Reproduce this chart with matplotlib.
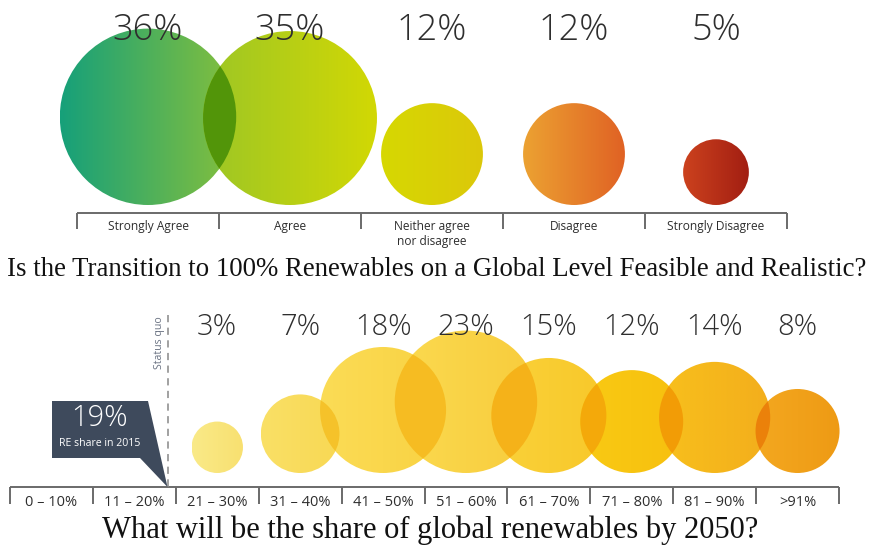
"""Two bubble charts from a renewables survey: feasibility and expected 2050 share."""

import numpy as np
import matplotlib.pyplot as plt
from matplotlib.patches import Circle, Polygon
from matplotlib.colors import to_rgb

# survey 1: is a 100% renewable transition feasible?
feasCategories = ['Strongly Agree', 'Agree', 'Neither agree\nnor disagree', 'Disagree', 'Strongly Disagree']
feasShares = [36, 35, 12, 12, 5]

# survey 2: expected global renewable share by 2050 (first two bins got no answers drawn)
shareCategories = ['0 – 10%', '11 – 20%', '21 – 30%', '31 – 40%', '41 – 50%',
                   '51 – 60%', '61 – 70%', '71 – 80%', '81 – 90%', '>91%']
shareValues = [0, 0, 3, 7, 18, 23, 15, 12, 14, 8]
statusQuo = 19

feasTitle = 'Is the Transition to 100% Renewables on a Global Level Feasible and Realistic?'
shareTitle = 'What will be the share of global renewables by 2050?'

# left/right colours of each bubble's horizontal gradient
feasGradients = [('#16a07a', '#86c03c'), ('#9cc626', '#d2d804'), ('#d6d802', '#dcc80a'),
                 ('#eca232', '#e06224'), ('#cc421e', '#a21e12')]
shareGradients = [None, None, ('#faea88', '#f8e070'), ('#fae066', '#f8d854'),
                  ('#fbdc56', '#f9d242'), ('#fbda50', '#f8cc3c'), ('#fad23a', '#f8c82a'),
                  ('#f9ca14', '#f7c00e'), ('#f8c01c', '#f3ae1c'), ('#f4a820', '#ee9a14')]

sansFont = ['Open Sans', 'DejaVu Sans']
serifFont = ['Liberation Serif', 'DejaVu Serif']
textColor = '#2e2e2e'
axisColor = '#6a6a6a'

fig = plt.figure(figsize=(8.74, 5.52), dpi=100)
ax = fig.add_axes([0, 0, 1, 1])
ax.set_xlim(0, 874)
ax.set_ylim(552, 0)
ax.set_aspect('equal')
ax.axis('off')


def gradientCircle(cx, cy, r, leftColor, rightColor, z):
    left = np.array(to_rgb(leftColor))
    right = np.array(to_rgb(rightColor))
    t = np.linspace(0, 1, 256)[None, :, None]
    img = left + (right - left) * t
    clip = Circle((cx, cy), r, transform=ax.transData, facecolor='none', edgecolor='none')
    ax.add_patch(clip)
    im = ax.imshow(img, extent=(cx - r, cx + r, cy + r, cy - r), aspect='auto',
                   interpolation='bilinear', zorder=z)
    im.set_clip_path(clip)
    return clip


def overlap(clipA, cx, cy, r, colorA, colorB, z, strength=1.0):
    # multiply-style darkening where two bubbles overlap
    a = np.array(to_rgb(colorA))
    b = np.array(to_rgb(colorB))
    mixed = strength * (a * b) + (1 - strength) * (a + b) / 2
    lens = Circle((cx, cy), r, facecolor=mixed, edgecolor='none', zorder=z)
    ax.add_patch(lens)
    lens.set_clip_path(clipA)


def bracketAxis(x0, step, n, y, tickLen, lw):
    xs = x0 + step * np.arange(n + 1)
    ax.plot([xs[0], xs[-1]], [y, y], color=axisColor, lw=lw, solid_capstyle='butt', zorder=2)
    for x in xs:
        ax.plot([x, x], [y, y + tickLen], color=axisColor, lw=lw, solid_capstyle='butt', zorder=2)
    return xs


# ---- top chart ----
topLeft, topStep, topBase, topScale = 77, 142, 205, 14.7
bracketAxis(topLeft, topStep, len(feasCategories), 213, 16, 1.4)
prevClip = None
for i, (cat, val) in enumerate(zip(feasCategories, feasShares)):
    cx = topLeft + topStep * (i + 0.5)
    r = topScale * np.sqrt(val)
    cy = topBase - r
    clip = gradientCircle(cx, cy, r, *feasGradients[i], z=3)
    if prevClip is not None:
        px, py = prevClip.center
        if abs(cx - px) < r + prevClip.radius:
            overlap(prevClip, cx, cy, r, feasGradients[i - 1][1], feasGradients[i][0], z=4)
    prevClip = clip
    ax.text(cx, 30, f'{val}%', ha='center', va='center', fontsize=26, color=textColor,
            family=sansFont, weight='light', zorder=6)
    ax.text(cx, 220, cat, ha='center', va='top', fontsize=8.6, color=textColor,
            family=sansFont, weight='medium', linespacing=1.2)

ax.text(437, 270, feasTitle, ha='center', va='center', fontsize=19.3, color='#111111', family=serifFont)

# ---- bottom chart ----
botLeft, botStep, botBase, botScale = 10, 82.9, 473, 14.85
bracketAxis(botLeft, botStep, len(shareCategories), 487, 17, 1.4)
prevClip = None
prevIdx = None
for i, (cat, val) in enumerate(zip(shareCategories, shareValues)):
    cx = botLeft + botStep * (i + 0.5)
    ax.text(cx, 503, cat, ha='center', va='center', fontsize=10.5, color=textColor,
            family=sansFont, weight='medium')
    if val <= 0:
        continue
    r = botScale * np.sqrt(val)
    cy = botBase - r
    clip = gradientCircle(cx, cy, r, *shareGradients[i], z=3)
    if prevClip is not None:
        px, py = prevClip.center
        if np.hypot(cx - px, cy - py) < r + prevClip.radius:
            overlap(prevClip, cx, cy, r, shareGradients[prevIdx][1], shareGradients[i][0],
                    z=4, strength=0.75)
    prevClip = clip
    prevIdx = i
    ax.text(cx, 327, f'{val}%', ha='center', va='center', fontsize=21, color=textColor,
            family=sansFont, weight='light', zorder=6)

# status quo marker and callout
sqX = botLeft + botStep * statusQuo / 10
ax.plot([sqX, sqX], [315, 487], color='#9a9a9a', lw=1.3, dashes=(4, 3), zorder=2)
ax.text(sqX - 8, 316, 'Status quo', rotation=90, ha='center', va='top', fontsize=7.6,
        color='#6a7282', family=sansFont)
callout = Polygon([(52, 401), (148, 401), (sqX, 487), (140, 458), (52, 458)],
                  closed=True, facecolor='#3e4a5c', edgecolor='none', zorder=5)
ax.add_patch(callout)
ax.text(100, 418, f'{statusQuo}%', ha='center', va='center', fontsize=21, color='white',
        family=sansFont, weight='light', zorder=6)
ax.text(100, 444, 'RE share in 2015', ha='center', va='center', fontsize=7.6, color='white',
        family=sansFont, zorder=6)

ax.text(430, 530, shareTitle, ha='center', va='center', fontsize=22, color='#111111', family=serifFont)

fig.savefig('out.png', dpi=100)
